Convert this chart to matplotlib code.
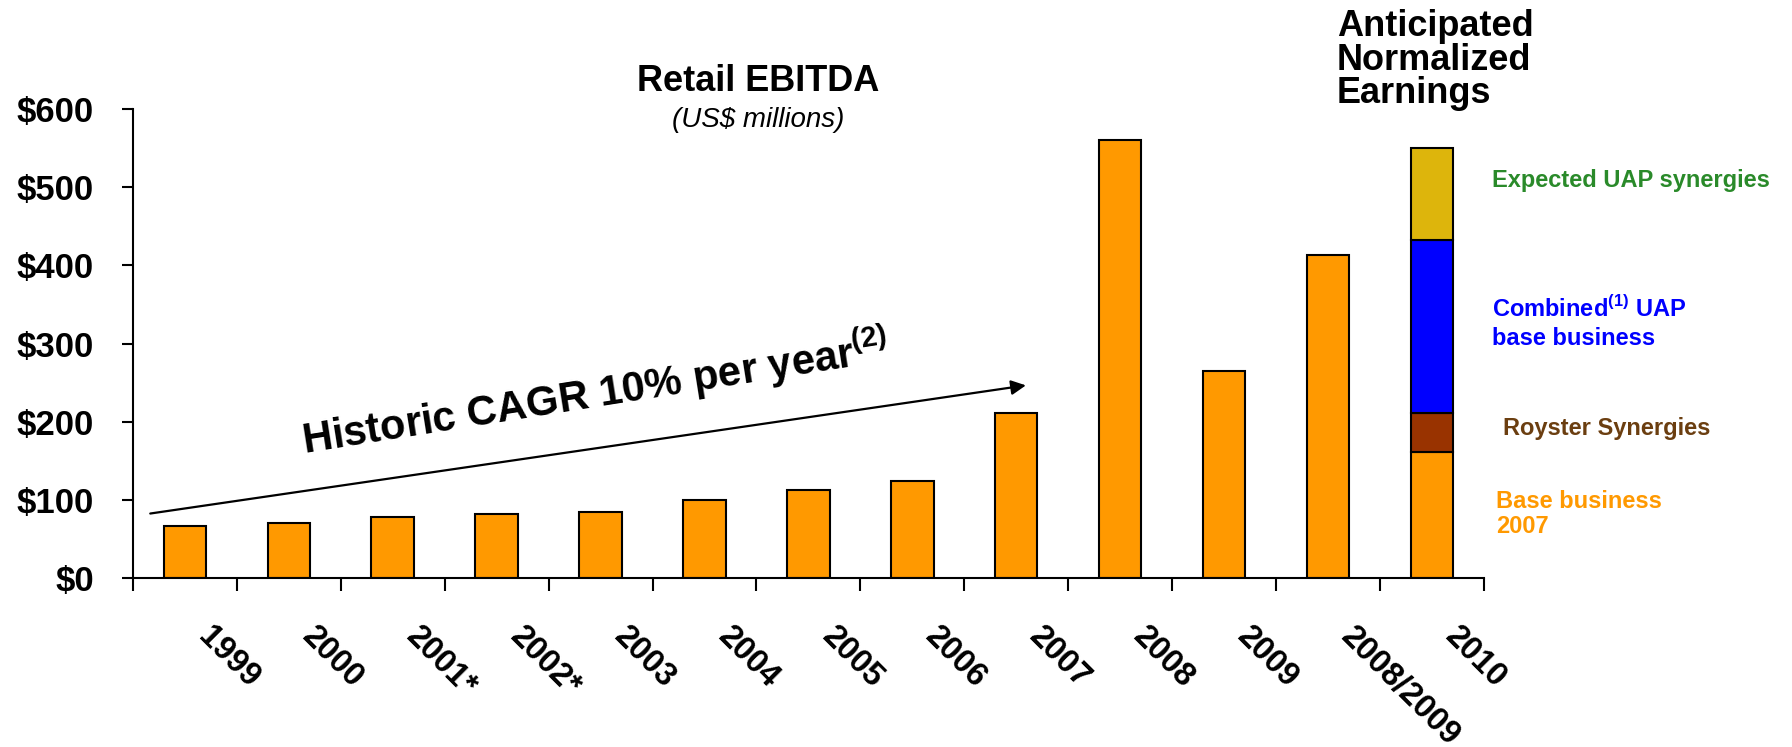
import matplotlib
matplotlib.use("Agg")
import matplotlib.pyplot as plt
import matplotlib.transforms as mtransforms
import numpy as np

plt.rcParams['font.family'] = ['Liberation Sans', 'DejaVu Sans']
plt.rcParams['font.weight'] = 'bold'
plt.rcParams['mathtext.fontset'] = 'custom'
plt.rcParams['mathtext.rm'] = 'Liberation Sans:bold'
plt.rcParams['mathtext.bf'] = 'Liberation Sans:bold'

# --- data (US$ millions) ---
years = ['1999', '2000', '2001*', '2002*', '2003', '2004', '2005', '2006',
         '2007', '2008', '2009', '2008/2009', '2010']
ebitda = [66, 70, 78, 82, 85, 100, 113, 124, 211, 561, 265, 413]

# 2010 stacked bar: base business, Royster synergies, UAP base, UAP synergies
stack_vals = [161, 50, 221, 118]
stack_colors = ['#FF9900', '#993300', '#0000FF', '#DDB50C']

yticks = [0, 100, 200, 300, 400, 500, 600]

ORANGE = '#FF9900'

fig = plt.figure(figsize=(17.92, 7.47), dpi=100)
ax = fig.add_axes([0.0742, 0.2262, 0.7538, 0.6278])

x = np.arange(len(years))
bw = 0.41
ax.bar(x[:len(ebitda)], ebitda, width=bw, color=ORANGE, edgecolor='black', linewidth=1.5)

bottom = 0
for v, c in zip(stack_vals, stack_colors):
    ax.bar(x[-1], v, bottom=bottom, width=bw, color=c, edgecolor='black', linewidth=1.5)
    bottom += v

ax.set_xlim(-0.5, len(years) - 0.5)
ax.set_ylim(0, 600)

for s in ['top', 'right']:
    ax.spines[s].set_visible(False)
ax.spines['left'].set_linewidth(1.5)
ax.spines['bottom'].set_linewidth(1.5)

ax.set_yticks(yticks)
ax.set_yticklabels(['$%d' % v for v in yticks], fontsize=25, fontweight='bold')
ax.tick_params(axis='y', direction='out', length=8, width=1.5, pad=20)

# category boundary ticks + rotated labels
ax.set_xticks(np.arange(-0.5, len(years), 1.0), minor=True)
ax.tick_params(axis='x', which='minor', direction='out', length=9, width=1.5)
ax.set_xticks(x)
ax.set_xticklabels(years, fontsize=23.5, fontweight='bold', rotation=-45,
                   ha='left', va='top', rotation_mode='anchor')
ax.tick_params(axis='x', which='major', length=0, pad=31)
offset = mtransforms.ScaledTranslation(0.29, 0, fig.dpi_scale_trans)
for lbl in ax.get_xticklabels():
    lbl.set_transform(lbl.get_transform() + offset)

# growth arrow and label
ax.annotate('', xy=(8.12, 247), xytext=(-0.36, 82),
            arrowprops=dict(arrowstyle='-|>', color='black', lw=1.6, mutation_scale=22))
ax.text(3.95, 236, r'Historic CAGR 10% per year$^{\mathbf{(2)}}$', fontsize=30,
        fontweight='bold', rotation=9, rotation_mode='anchor', ha='center', va='center')

# titles
fig.text(0.423, 0.891, 'Retail EBITDA', fontsize=26, fontweight='bold', ha='center', va='center')
fig.text(0.423, 0.840, '(US$ millions)', fontsize=20, fontweight='normal', style='italic',
         ha='center', va='center')
fig.text(0.746, 0.988, 'Anticipated\nNormalized\nEarnings', fontsize=26, fontweight='bold',
         ha='left', va='top', linespacing=0.95)

# segment labels
fig.text(0.8326, 0.758, 'Expected UAP synergies', fontsize=17, color='#2A8A2A', va='center')
fig.text(0.8326, 0.586, r'Combined$^{(1)}$ UAP', fontsize=17, color='#0000FF', va='center')
fig.text(0.8326, 0.547, 'base business', fontsize=17, color='#0000FF', va='center')
fig.text(0.839, 0.426, 'Royster Synergies', fontsize=17, color='#6B3E10', va='center')
fig.text(0.835, 0.329, 'Base business', fontsize=17, color=ORANGE, va='center')
fig.text(0.835, 0.295, '2007', fontsize=17, color=ORANGE, va='center')

fig.savefig('out.png', dpi=100)
